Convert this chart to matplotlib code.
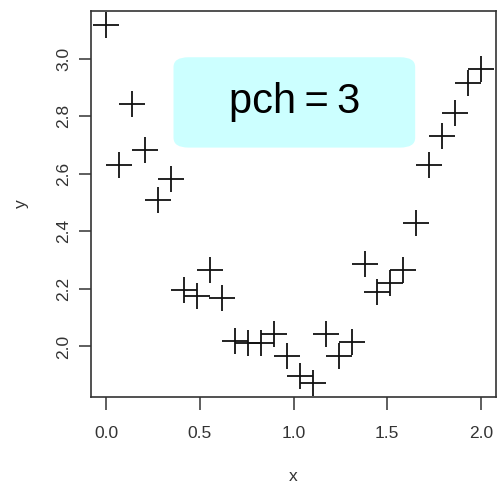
import matplotlib
matplotlib.use("Agg")
import matplotlib.pyplot as plt
import numpy as np
from matplotlib.patches import FancyBboxPatch

x = [0.000, 0.069, 0.138, 0.207, 0.276, 0.345, 0.414, 0.483, 0.552, 0.621,
     0.690, 0.759, 0.828, 0.897, 0.966, 1.034, 1.103, 1.172, 1.241, 1.310,
     1.379, 1.448, 1.517, 1.586, 1.655, 1.724, 1.793, 1.862, 1.931, 2.000]
y = [3.116, 2.632, 2.843, 2.684, 2.508, 2.582, 2.196, 2.176, 2.267, 2.169,
     2.019, 2.012, 2.012, 2.042, 1.966, 1.897, 1.874, 2.043, 1.966, 2.017,
     2.288, 2.188, 2.219, 2.267, 2.429, 2.631, 2.732, 2.812, 2.915, 2.964]
xticks = [0.0, 0.5, 1.0, 1.5, 2.0]
yticks = [2.0, 2.2, 2.4, 2.6, 2.8, 3.0]

plt.rcParams['font.family'] = ['Liberation Sans', 'DejaVu Sans']
fig = plt.figure(figsize=(4.97, 4.87), dpi=100)
ax = fig.add_axes([91/497, 1-397/487, (496-91)/497, (397-11)/487])

ax.plot(x, y, linestyle='none', marker='+', markersize=19, markeredgewidth=1.3, color='#111111')

xmin, xmax = min(x), max(x)
ymin, ymax = min(y), max(y)
rx, ry = xmax - xmin, ymax - ymin
ax.set_xlim(xmin - 0.04*rx, xmax + 0.04*rx)
ax.set_ylim(ymin - 0.04*ry, ymax + 0.04*ry)

ax.set_xticks(xticks)
ax.set_xticklabels([f"{v:.1f}" for v in xticks])
ax.set_yticks(yticks)
ax.set_yticklabels([f"{v:.1f}" for v in yticks], rotation=90, va='center')
ax.tick_params(direction='out', length=9, width=1.1, color='#333333',
               labelsize=12.5, labelcolor='#333333')
ax.tick_params(axis='x', pad=12)
ax.tick_params(axis='y', pad=5)
for s in ax.spines.values():
    s.set_linewidth(1.2)
    s.set_color('#333333')

ax.set_xlabel("x", fontsize=12.5, color='#333333', labelpad=20)
ax.set_ylabel("y", fontsize=12.5, color='#333333', labelpad=20)

# annotation box
bx0, bx1 = 0.36, 1.649
by0, by1 = 2.691, 3.005
box = FancyBboxPatch((bx0, by0), bx1 - bx0, by1 - by0,
                     boxstyle="round,pad=0,rounding_size=0.08",
                     mutation_aspect=(by1-by0)/(bx1-bx0)*1.75,
                     facecolor='#ccffff', edgecolor='none', zorder=1)
ax.add_patch(box)
ax.text((bx0+bx1)/2, (by0+by1)/2, "pch\u2009=\u20093", fontsize=30,
        ha='center', va='center', color='black', zorder=3,
        family=['Liberation Sans', 'DejaVu Sans'])

fig.savefig("out.png", dpi=100)
